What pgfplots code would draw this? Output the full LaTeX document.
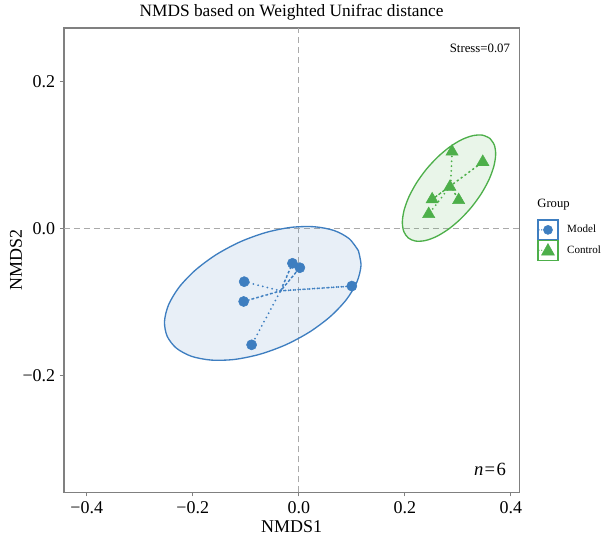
\documentclass[border=0pt]{standalone}
\usepackage{fontspec}
\setmainfont{Liberation Serif}
\usepackage{pgfplots}
\pgfplotsset{compat=1.18}
\definecolor{mblue}{RGB}{62,126,192}
\definecolor{cgreen}{RGB}{77,175,74}
\definecolor{framegray}{RGB}{128,128,128}
\definecolor{zerogray}{RGB}{170,170,170}
\begin{document}
\begin{tikzpicture}
\begin{axis}[
  name=ax,
  scale only axis,
  clip=false,
  width=342pt, height=348.75pt,
  xmin=-0.443, xmax=0.416, ymin=-0.359, ymax=0.2735,
  axis line style={draw=framegray, line width=0.9pt},
  xtick={-0.4,-0.2,0,0.2,0.4},
  xticklabels={−0.4,−0.2,0.0,0.2,0.4},
  ytick={-0.2,0,0.2},
  yticklabels={−0.2,0.0,0.2},
  tick align=outside,
  tick pos=left,
  major tick length=3pt,
  tick style={draw=framegray, line width=0.8pt},
  ticklabel style={font=\fontsize{13.5}{16}\selectfont, text=black},
  xlabel={NMDS1}, ylabel={NMDS2},
  label style={font=\fontsize{13.5}{16}\selectfont, inner sep=0pt},
  xlabel style={at={(axis description cs:0.5,-0.073)}, anchor=center},
  ylabel style={at={(axis description cs:-0.105,0.5)}, anchor=center},
  every axis title shift=0pt,
  title={NMDS based on Weighted Unifrac distance},
  title style={font=\fontsize{13}{15}\selectfont, inner sep=0pt, at={(axis description cs:0.5,1.034)}, anchor=center},
  legend style={at={(axis description cs:1.039,0.5886)}, anchor=north west, draw=none, fill=none,
    inner sep=0pt, row sep=-0.6pt, column sep=6.5pt, font=\fontsize{8.3}{10}\selectfont,
    nodes={inner sep=0pt}},
  legend cell align=left,
]
% zero lines
\addplot[forget plot, zerogray, line width=0.9pt, dash pattern=on 4.5pt off 3pt] coordinates {(0,-0.359) (0,0.2735)};
\addplot[forget plot, zerogray, line width=0.9pt, dash pattern=on 4.5pt off 3pt] coordinates {(-0.443,0) (0.416,0)};
% ellipses
\addplot[forget plot, smooth, draw=mblue, line width=1pt, fill=mblue, fill opacity=0.12, draw opacity=1, line join=round] coordinates {
(0.1123,-0.0297) (0.0950,-0.0135) (0.0667,-0.0024) (0.0291,0.0028) (-0.0151,0.0019) (-0.0628,-0.0052)
(-0.1110,-0.0179) (-0.1562,-0.0354) (-0.1954,-0.0565) (-0.2259,-0.0797) (-0.2456,-0.1035) (-0.2533,-0.1262)
(-0.2483,-0.1463) (-0.2310,-0.1625) (-0.2027,-0.1736) (-0.1651,-0.1788) (-0.1210,-0.1779) (-0.0732,-0.1708)
(-0.0250,-0.1581) (0.0202,-0.1406) (0.0594,-0.1195) (0.0899,-0.0963) (0.1096,-0.0725) (0.1173,-0.0498)
(0.1123,-0.0297)};
\addplot[forget plot, smooth, draw=cgreen, line width=1pt, fill=cgreen, fill opacity=0.12, draw opacity=1, line join=round] coordinates {
(0.3603,0.1232) (0.3466,0.1275) (0.3286,0.1269) (0.3075,0.1215) (0.2847,0.1115) (0.2619,0.0977)
(0.2405,0.0810) (0.2221,0.0626) (0.2078,0.0437) (0.1987,0.0256) (0.1953,0.0095) (0.1979,-0.0035)
(0.2064,-0.0124) (0.2200,-0.0167) (0.2381,-0.0161) (0.2591,-0.0107) (0.2819,-0.0007) (0.3047,0.0131)
(0.3261,0.0298) (0.3445,0.0482) (0.3588,0.0671) (0.3679,0.0852) (0.3713,0.1013) (0.3687,0.1143)
(0.3603,0.1232)};
% spiders
\addplot[forget plot, mblue, line width=1.5pt, dash pattern=on 0pt off 3.6pt, line cap=round] coordinates {
(-0.103,-0.072) (-0.0343,-0.0845) (-0.104,-0.099) (-0.0343,-0.0845) (-0.012,-0.047) (-0.0343,-0.0845)
(0.002,-0.053) (-0.0343,-0.0845) (0.100,-0.078) (-0.0343,-0.0845) (-0.089,-0.158)};
\addplot[forget plot, cgreen, line width=1.5pt, dash pattern=on 0pt off 3.6pt, line cap=round] coordinates {
(0.289,0.105) (0.2865,0.0587) (0.347,0.091) (0.2865,0.0587) (0.285,0.057) (0.2865,0.0587)
(0.2515,0.040) (0.2865,0.0587) (0.3015,0.039) (0.2865,0.0587) (0.245,0.020)};
% points
\addplot[only marks, mark=*, mark size=3.8pt, mark options={draw=mblue, fill=mblue},
  legend image code/.code={
    \draw[mblue, line width=0.9pt, fill=white] (0pt,-7.5pt) rectangle (15pt,7.5pt);
    \draw[mblue, line width=1pt, dash pattern=on 0pt off 2pt, line cap=round] (0.8pt,0pt) -- (5pt,0pt);
    \fill[mblue] (7.5pt,0pt) circle (3.4pt);
  }] coordinates {
(-0.103,-0.072) (-0.104,-0.099) (-0.012,-0.047) (0.002,-0.053) (0.100,-0.078) (-0.089,-0.158)};
\addlegendentry{Model}
\addplot[only marks, mark=triangle*, mark size=5.3pt, mark options={draw=cgreen, fill=cgreen},
  legend image code/.code={
    \draw[cgreen, line width=0.9pt, fill=white] (0pt,-7.5pt) rectangle (15pt,7.5pt);
    \draw[cgreen, line width=1pt, dash pattern=on 0pt off 2pt, line cap=round] (0.8pt,0pt) -- (4pt,0pt);
    \fill[cgreen] (7.5pt,5pt) -- (12.3pt,-3.6pt) -- (2.7pt,-3.6pt) -- cycle;
  }] coordinates {
(0.289,0.105) (0.347,0.091) (0.285,0.057) (0.2515,0.040) (0.3015,0.039) (0.245,0.020)};
\addlegendentry{Control}
% annotations
\node[anchor=east, inner sep=0pt, font=\fontsize{9.6}{11}\selectfont] at (axis description cs:0.98,0.956) {Stress=0.07};
\node[anchor=east, inner sep=0pt, font=\fontsize{14}{16}\selectfont] at (axis description cs:0.971,0.0495) {\textit{n}\kern1pt=\kern1pt6};
\node[anchor=west, inner sep=0pt, font=\fontsize{9.5}{11}\selectfont] at (axis description cs:1.039,0.619) {Group};
\end{axis}
\path ([xshift=-48pt,yshift=-39pt]ax.south west) rectangle ([xshift=60.75pt,yshift=21pt]ax.north east);
\end{tikzpicture}
\end{document}
